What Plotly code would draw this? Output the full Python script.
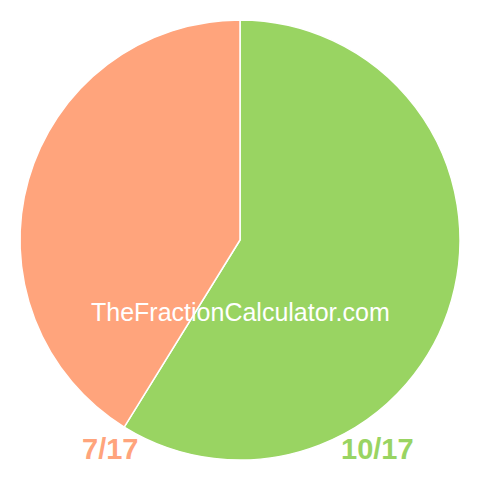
import plotly.graph_objects as go

# slices of the fraction pie
labels = ["10/17", "7/17"]
values = [10, 7]
colors = ["#99D462", "#FFA47C"]

fig = go.Figure()

fig.add_trace(go.Pie(
    labels=labels,
    values=values,
    sort=False,
    direction="clockwise",
    rotation=0,
    marker=dict(colors=colors, line=dict(color="white", width=1.5)),
    textinfo="none",
    hoverinfo="label",
    showlegend=False,
    domain=dict(x=[20 / 480, 460 / 480], y=[20 / 480, 460 / 480]),
))

# fraction labels under the pie
fig.add_annotation(x=110 / 480, y=1 - 449 / 480, xref="paper", yref="paper",
                   xanchor="center", yanchor="middle",
                   text="<b>7/17</b>", showarrow=False,
                   font=dict(family="Liberation Sans, Arial", size=29, color=colors[1]))
fig.add_annotation(x=377 / 480, y=1 - 449 / 480, xref="paper", yref="paper",
                   xanchor="center", yanchor="middle",
                   text="<b>10/17</b>", showarrow=False,
                   font=dict(family="Liberation Sans, Arial", size=29, color=colors[0]))

# watermark
fig.add_annotation(x=0.5, y=1 - 312 / 480, xref="paper", yref="paper",
                   xanchor="center", yanchor="middle",
                   text="TheFractionCalculator.com", showarrow=False,
                   font=dict(family="Liberation Sans, Arial", size=25, color="white"))

fig.update_layout(
    width=480, height=480,
    margin=dict(l=0, r=0, t=0, b=0),
    paper_bgcolor="white",
    plot_bgcolor="white",
)

fig.write_html("out.html", config={"displayModeBar": False},
               post_script="document.body.style.margin='0';")
